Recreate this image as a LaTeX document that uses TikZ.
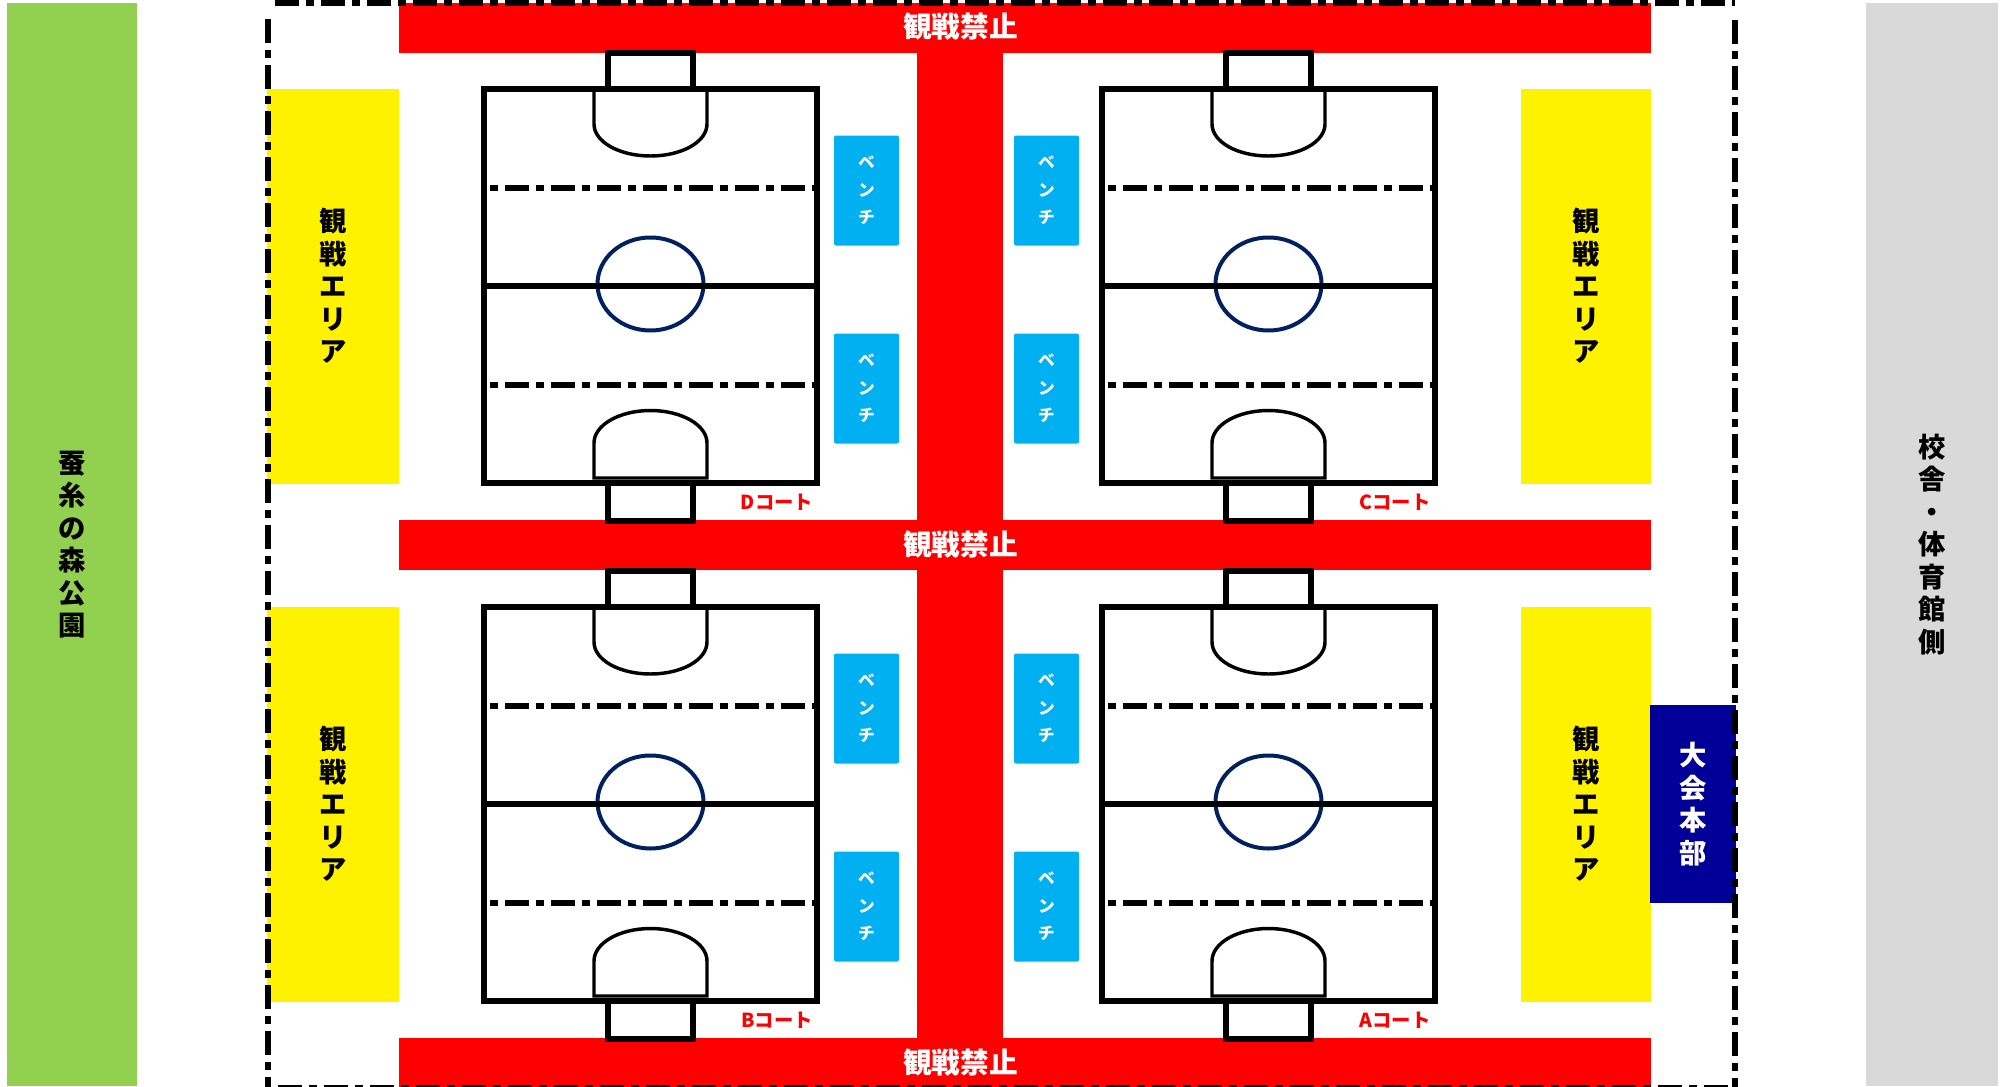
\documentclass[tikz,border=0pt]{standalone}
\usepackage{fontspec}
\setmainfont{Noto Sans CJK JP}
\usepackage{xcolor}
\usetikzlibrary{positioning}
\definecolor{parkgreen}{HTML}{92D050}
\definecolor{schoolgray}{HTML}{D9D9D9}
\definecolor{benchblue}{HTML}{00B0F0}
\definecolor{hqblue}{HTML}{000099}
\definecolor{circleblue}{HTML}{002060}
\def\px{0.75pt}
\begin{document}
\begin{tikzpicture}[
    x=\px, y=-\px,
    zone/.style={
        rectangle, draw=none, fill=#1, inner sep=0pt,
        align=center, font=\fontsize{20.5}{24.4}\selectfont\bfseries
    },
    bench/.style={
        rectangle, rounded corners=1.5pt, draw=none, fill=benchblue, inner sep=0pt,
        minimum width=65*\px, minimum height=110*\px, text=white,
        align=center, font=\fontsize{12.5}{20.6}\selectfont\bfseries
    },
    banlabel/.style={text=white, inner sep=0pt, font=\fontsize{21.5}{24}\selectfont\bfseries},
    courtlabel/.style={text=red, inner sep=0pt, font=\fontsize{14.5}{16}\selectfont\bfseries},
    boundary/.style={line width=4.5pt, dash pattern=on 18pt off 5.25pt on 6pt off 5.25pt},
    halfline/.style={line width=4.5pt, dash pattern=on 6pt off 5.25pt on 18pt off 5.25pt},
    courtline/.style={line width=4.5pt, draw=black},
    penalty/.style={line width=2.6pt, draw=black},
    court/.pic={
        % penalty areas
        \draw[penalty] (-56.5,-197) -- (-56.5,-162)
            .. controls (-56.5,-144) and (-31,-130) .. (0,-130)
            .. controls (31,-130) and (56.5,-144) .. (56.5,-162) -- (56.5,-197);
        \draw[penalty] (-56.5,192) -- (-56.5,157)
            .. controls (-56.5,139) and (-31,124.5) .. (0,124.5)
            .. controls (31,124.5) and (56.5,139) .. (56.5,157) -- (56.5,192) -- cycle;
        % goals
        \draw[courtline] (-42.5,-197) -- (-42.5,-233.5) -- (42.5,-233.5) -- (42.5,-197);
        \draw[courtline] (-42.5,197) -- (-42.5,235) -- (42.5,235) -- (42.5,197);
        % centre circle
        \draw[line width=3pt, circleblue] (0,-2) ellipse [x radius=53, y radius=46.5];
        % lines
        \draw[courtline, line join=miter] (-166.5,-197) rectangle (166.5,197);
        \draw[courtline] (-166.5,0) -- (166.5,0);
        \draw[halfline] (-160.5,-98) -- (164,-98);
        \draw[halfline] (-160.5,99) -- (164,99);
    },
]
\useasboundingbox (0,0) rectangle (2010,1086);

% Outer areas
\node[zone=parkgreen, minimum width=130*\px, minimum height=1083*\px] (park) at (72,544.5) {蚕\\糸\\の\\森\\公\\園};
\node[zone=schoolgray, minimum width=132*\px, minimum height=1083*\px] (school) at (1932,544.5) {校\\舎\\・\\体\\育\\館\\側};

% No-spectator strips
\node[zone=red, minimum width=86*\px, minimum height=1035*\px] (road) at (960,545.5) {};
\node[zone=red, minimum width=1252*\px, minimum height=50*\px] (banD) at (1025,28) {};
\node[zone=red, minimum width=1252*\px, minimum height=50*\px] (banM) at (1025,545) {};
\node[zone=red, minimum width=1252*\px, minimum height=50*\px] (banB) at (1025,1063) {};
\node[banlabel] (banDtext) at (960.5,27) {観戦禁止};
\node[banlabel] (banMtext) at (960.5,545) {観戦禁止};
\node[banlabel] (banBtext) at (960.5,1063) {観戦禁止};

% Spectator areas
\node[zone=yellow, minimum width=132*\px, minimum height=395*\px] (areaD) at (333,286) {観\\戦\\エ\\リ\\ア};
\node[zone=yellow, minimum width=132*\px, minimum height=395*\px] (areaB) at (333,804) {観\\戦\\エ\\リ\\ア};
\node[zone=yellow, minimum width=130*\px, minimum height=395*\px] (areaC) at (1586,286) {観\\戦\\エ\\リ\\ア};
\node[zone=yellow, minimum width=130*\px, minimum height=395*\px] (areaA) at (1586,804) {観\\戦\\エ\\リ\\ア};

% Headquarters
\node[zone=hqblue, text=white, minimum width=86*\px, minimum height=198*\px] (hq) at (1693,804) {大\\会\\本\\部};

% Boundary
\draw[boundary] (275,3) -- (1735,3);
\draw[boundary] (278,1088) -- (1735,1088);
\draw[boundary] (268,19) -- (268,1088);
\draw[boundary] (1735,20) -- (1735,1088);

% Benches
\node[bench] (benchD1) at (866.5,190.5) {ベ\\ン\\チ};
\node[bench] (benchD2) at (866.5,388.5) {ベ\\ン\\チ};
\node[bench] (benchC1) at (1046.5,190.5) {ベ\\ン\\チ};
\node[bench] (benchC2) at (1046.5,388.5) {ベ\\ン\\チ};
\node[bench] (benchB1) at (866.5,708.5) {ベ\\ン\\チ};
\node[bench] (benchB2) at (866.5,906.5) {ベ\\ン\\チ};
\node[bench] (benchA1) at (1046.5,708.5) {ベ\\ン\\チ};
\node[bench] (benchA2) at (1046.5,906.5) {ベ\\ン\\チ};

% Courts
\pic at (650.5,286) {court};
\pic at (1268.5,286) {court};
\pic at (650.5,804) {court};
\pic at (1268.5,804) {court};

% Court names
\node[courtlabel] (nameD) at (777,502.5) {Dコート};
\node[courtlabel] (nameC) at (1395,502.5) {Cコート};
\node[courtlabel] (nameB) at (777,1020.5) {Bコート};
\node[courtlabel] (nameA) at (1395,1020.5) {Aコート};
\end{tikzpicture}
\end{document}
